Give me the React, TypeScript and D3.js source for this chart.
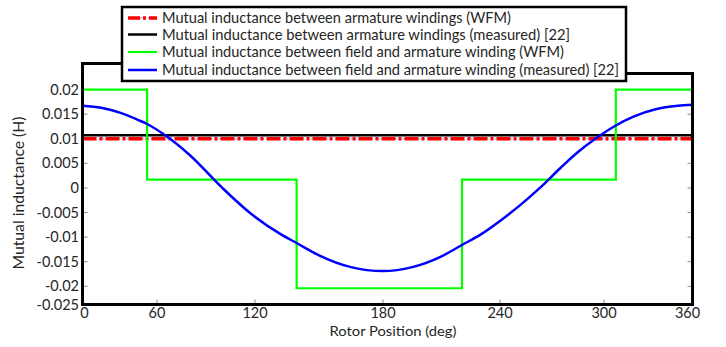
import React from "react";
import * as d3 from "d3";

const xTicks = [0, 60, 120, 180, 240, 300, 360];
const yTicks = [0.02, 0.015, 0.01, 0.005, 0, -0.005, -0.01, -0.015, -0.02, -0.025];
const yTickLabels = ["0.02", "0.015", "0.01", "0.005", "0", "-0.005", "-0.01", "-0.015", "-0.02", "-0.025"];

const armWfmDeg = [0, 360];
const armWfmVal = [0.01, 0.01];
const armMeasDeg = [0, 360];
const armMeasVal = [0.0107, 0.0107];

const fieldWfmDeg = [0, 52, 139.5, 220.5, 308, 360];
const fieldWfmVal = [0.02, 0.0017, -0.0204, 0.0017, 0.02, 0.02];

const fieldMeasDeg = [0, 15, 30, 45, 52, 65, 80, 100, 117, 132, 139.5, 150, 165, 180, 195, 210, 220.5, 230, 240, 252, 263, 275, 285, 295, 308, 320, 335, 350, 360];
const fieldMeasVal = [0.0167, 0.0163, 0.0153, 0.0138, 0.013, 0.0107, 0.0067, 0, -0.0051, -0.0094, -0.0112, -0.0137, -0.0161, -0.0169, -0.0161, -0.0139, -0.0116, -0.0095, -0.0067, -0.0034, 0, 0.0041, 0.0073, 0.01, 0.0127, 0.0145, 0.016, 0.0167, 0.0169];

const legendLabels = [
  "Mutual inductance between armature windings (WFM)",
  "Mutual inductance between armature windings (measured) [22]",
  "Mutual inductance between field and armature winding (WFM)",
  "Mutual inductance between field and armature winding (measured) [22]",
];
const legendWidths = [349, 408, 402, 457];

const FONT = "Lato, 'Open Sans', 'Liberation Sans', sans-serif";
const TXT = "#262626";

export default function App() {
  const left = 82.5, right = 692.5, bottom = 304.5, topL = 63.5, topR = 73.5;
  const x = d3.scaleLinear().domain(xTicks).range([left, 157, 255, 383, 500, 604, right]);
  const y = d3.scaleLinear().domain([-0.0237, 0.0253]).range([bottom, topL]).clamp(true);

  const line = d3.line<[number, number]>().x((d) => x(d[0])).y((d) => y(d[1]));
  const zip = (a: number[], b: number[]) => a.map((v, i) => [v, b[i]] as [number, number]);

  const stepLine = d3.line<[number, number]>().x((d) => x(d[0])).y((d) => y(d[1])).curve(d3.curveStepAfter);
  const smooth = d3.line<[number, number]>().x((d) => x(d[0])).y((d) => y(d[1])).curve(d3.curveMonotoneX);

  const legL = 122, legR = 626, legT = 7, legB = 81;
  const rows = [18, 34.5, 52, 70];

  return (
    <svg width={726} height={347} style={{ position: "absolute", left: 0, top: 0, background: "#fff" }}>
      <rect x={0} y={0} width={726} height={347} fill="#fff" />
      <defs>
        <clipPath id="plot">
          <rect x={left} y={topL} width={right - left} height={bottom - topL} />
        </clipPath>
      </defs>
      {xTicks.slice(1, -1).map((t) => (
        <line key={"xt" + t} x1={x(t)} x2={x(t)} y1={bottom} y2={bottom - 5} stroke="#888" strokeWidth={1} />
      ))}
      {yTicks.slice(0, -1).map((t) => (
        <g key={"yt" + t}>
          <line x1={left} x2={left + 5} y1={y(t)} y2={y(t)} stroke="#888" strokeWidth={1} />
          <line x1={right - 5} x2={right} y1={y(t)} y2={y(t)} stroke="#888" strokeWidth={1} />
        </g>
      ))}
      <g clipPath="url(#plot)">
        <path d={line(zip(armMeasDeg, armMeasVal)) || ""} stroke="#000" strokeWidth={2.5} fill="none" />
        <path d={line(zip(armWfmDeg, armWfmVal)) || ""} stroke="#b0b8ff" strokeWidth={2} strokeDasharray="2,2" fill="none" />
        <path d={line(zip(armWfmDeg, armWfmVal)) || ""} stroke="#ff0000" strokeWidth={3.5} strokeDasharray="14,3,3,3" fill="none" />
        <path d={stepLine(zip(fieldWfmDeg, fieldWfmVal)) || ""} stroke="#00ff00" strokeWidth={2.2} fill="none" />
        <path d={smooth(zip(fieldMeasDeg, fieldMeasVal)) || ""} stroke="#0000ff" strokeWidth={2.5} fill="none" />
      </g>
      <path
        d={`M${legL},${topL} L${left},${topL} L${left},${bottom} L${right},${bottom} L${right},${topR} L${legR},${topR}`}
        fill="none"
        stroke="#000"
        strokeWidth={3}
      />
      {yTicks.map((t, i) => (
        <text key={"yl" + t} x={79} y={y(t)} dy="0.35em" textAnchor="end" fontFamily={FONT} fontSize={14.5} fill={TXT}>
          {yTickLabels[i]}
        </text>
      ))}
      {xTicks.map((t, i) => (
        <text
          key={"xl" + t}
          x={x(t) + (i === 0 ? 2 : i === xTicks.length - 1 ? -5 : 0)}
          y={318}
          textAnchor="middle"
          fontFamily={FONT}
          fontSize={14.5}
          fill={TXT}
        >
          {t}
        </text>
      ))}
      <text x={393} y={336} textAnchor="middle" fontFamily={FONT} fontSize={14} fill={TXT} textLength={127} lengthAdjust="spacingAndGlyphs">
        Rotor Position (deg)
      </text>
      <text
        transform={`translate(24,193) rotate(-90)`}
        textAnchor="middle"
        fontFamily={FONT}
        fontSize={14.5}
        fill={TXT}
        textLength={153}
        lengthAdjust="spacingAndGlyphs"
      >
        Mutual inductance (H)
      </text>
      <rect x={legL} y={legT} width={legR - legL} height={legB - legT} fill="#fff" stroke="#000" strokeWidth={2.5} />
      <line x1={128} x2={157} y1={rows[0]} y2={rows[0]} stroke="#b0b8ff" strokeWidth={2} strokeDasharray="2,2" />
      <line x1={128} x2={157} y1={rows[0]} y2={rows[0]} stroke="#ff0000" strokeWidth={3.5} strokeDasharray="12,3,3,3" />
      <line x1={128} x2={157} y1={rows[1]} y2={rows[1]} stroke="#000" strokeWidth={2.5} />
      <line x1={128} x2={157} y1={rows[2]} y2={rows[2]} stroke="#00ff00" strokeWidth={2.2} />
      <line x1={128} x2={157} y1={rows[3]} y2={rows[3]} stroke="#0000ff" strokeWidth={2.5} />
      {legendLabels.map((s, i) => (
        <text
          key={s}
          x={162}
          y={rows[i]}
          dy="0.35em"
          fontFamily={FONT}
          fontSize={15}
          fill={TXT}
          textLength={legendWidths[i]}
          lengthAdjust="spacingAndGlyphs"
        >
          {s}
        </text>
      ))}
    </svg>
  );
}
